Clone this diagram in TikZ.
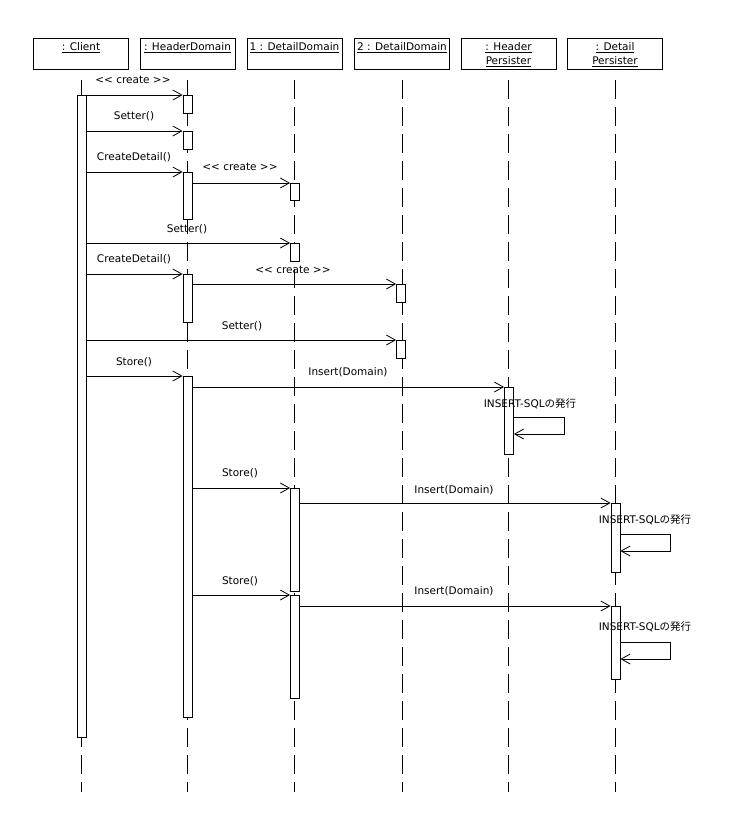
\documentclass[tikz,border=0pt]{standalone}
\usepackage{fontspec}
\setmainfont{DejaVu Sans}
\newfontfamily\jp{Noto Sans CJK JP}
\usetikzlibrary{arrows.meta,calc}
\newcommand{\stereo}[1]{<\kern0pt<\ #1 >\kern0pt>}
\begin{document}
\begin{tikzpicture}[x=1pt,y=-1pt,
  every node/.style={font=\fontsize{10.5}{12}\selectfont},
  objbox/.style={draw,line width=0.8pt,minimum width=95pt,minimum height=31pt,inner sep=0pt},
  objtext/.style={anchor=north,yshift=-4pt,align=center,inner sep=1pt,font=\fontsize{10.5}{13.5}\selectfont},
  life/.style={line width=0.8pt,dash pattern=on 19pt off 8pt},
  act/.style={draw,fill=white,line width=0.8pt,minimum width=9pt,inner sep=0pt,anchor=north},
  msg/.style={line width=0.8pt,-{Straight Barb[length=9pt,width=10pt]}},
  lbl/.style={inner sep=1pt}
]
\path[use as bounding box,fill=white] (0,0) rectangle (735,830);

% object boxes
\node[objbox,label={[objtext]north:\underline{: Client}}] (client) at (81,53.5) {};
\node[objbox,label={[objtext]north:\underline{: HeaderDomain}}] (hd) at (187.5,53.5) {};
\node[objbox,label={[objtext]north:\underline{1 : DetailDomain}}] (dd1) at (294.5,53.5) {};
\node[objbox,label={[objtext]north:\underline{2 : DetailDomain}}] (dd2) at (402,53.5) {};
\node[objbox,label={[objtext]north:\underline{: Header}\\\underline{Persister}}] (hp) at (508.5,53.5) {};
\node[objbox,label={[objtext]north:\underline{: Detail}\\\underline{Persister}}] (dp) at (615,53.5) {};

% lifelines
\foreach \o in {client,hd,dd1,dd2,hp,dp}
  \draw[life] ($(\o.south)+(0,11)$) -- ($(\o.south)+(0,723)$);

% activations
\node[act,minimum height=642pt] (c0) at (81.5,95) {};
\node[act,minimum height=18pt] (h1) at (187.5,95) {};
\node[act,minimum height=18pt] (h2) at (187.5,131) {};
\node[act,minimum height=47pt] (h3) at (187.5,172) {};
\node[act,minimum height=17pt] (d1a) at (295,183) {};
\node[act,minimum height=18pt] (d1b) at (295,243) {};
\node[act,minimum height=48pt] (h4) at (187.5,274) {};
\node[act,minimum height=18pt] (d2a) at (401,284) {};
\node[act,minimum height=18pt] (d2b) at (401,340) {};
\node[act,minimum height=341pt] (h5) at (187.5,376) {};
\node[act,minimum height=67pt] (hp1) at (509,387) {};
\node[act,minimum height=103pt] (d1c) at (295,488) {};
\node[act,minimum height=69pt] (dp1) at (615.5,503) {};
\node[act,minimum height=103pt] (d1d) at (295,595) {};
\node[act,minimum height=73pt] (dp2) at (615.5,606) {};

% messages
\draw[msg] (c0.east |- h1.north west) -- (h1.north west);
\draw[msg] (c0.east |- h2.north west) -- (h2.north west);
\draw[msg] (c0.east |- h3.north west) -- (h3.north west);
\draw[msg] (h3.east |- d1a.north west) -- (d1a.north west);
\draw[msg] (c0.east |- d1b.north west) -- (d1b.north west);
\draw[msg] (c0.east |- h4.north west) -- (h4.north west);
\draw[msg] (h4.east |- d2a.north west) -- (d2a.north west);
\draw[msg] (c0.east |- d2b.north west) -- (d2b.north west);
\draw[msg] (c0.east |- h5.north west) -- (h5.north west);
\draw[msg] (h5.east |- hp1.north west) -- (hp1.north west);
\draw[msg] (h5.east |- d1c.north west) -- (d1c.north west);
\draw[msg] (d1c.east |- dp1.north west) -- (dp1.north west);
\draw[msg] (h5.east |- d1d.north west) -- (d1d.north west);
\draw[msg] (d1d.east |- dp2.north west) -- (dp2.north west);

% self calls
\draw[msg] ($(hp1.north east)+(0,30)$) -- ++(50,0) -- ++(0,17) -- ($(hp1.north east)+(0,47)$);
\draw[msg] ($(dp1.north east)+(0,31)$) -- ++(50,0) -- ++(0,17) -- ($(dp1.north east)+(0,48)$);
\draw[msg] ($(dp2.north east)+(0,36)$) -- ++(50,0) -- ++(0,17) -- ($(dp2.north east)+(0,53)$);

% labels
\node[lbl] (l1) at (133,80) {\stereo{create}};
\node[lbl] (l2) at (134,116) {Setter()};
\node[lbl] (l3) at (134,157) {CreateDetail()};
\node[lbl] (l4) at (240,167) {\stereo{create}};
\node[lbl] (l5) at (187,229) {Setter()};
\node[lbl] (l6) at (134,259) {CreateDetail()};
\node[lbl] (l7) at (293,270) {\stereo{create}};
\node[lbl] (l8) at (242,326) {Setter()};
\node[lbl] (l9) at (134,362) {Store()};
\node[lbl] (l10) at (348,372) {Insert(Domain)};
\node[lbl] (l11) at (530,404) {INSERT-SQL{\jp の発行}};
\node[lbl] (l12) at (240,473) {Store()};
\node[lbl] (l13) at (454,490) {Insert(Domain)};
\node[lbl] (l14) at (645,520) {INSERT-SQL{\jp の発行}};
\node[lbl] (l15) at (240,581) {Store()};
\node[lbl] (l16) at (454,591) {Insert(Domain)};
\node[lbl] (l17) at (645,627) {INSERT-SQL{\jp の発行}};
\end{tikzpicture}
\end{document}
